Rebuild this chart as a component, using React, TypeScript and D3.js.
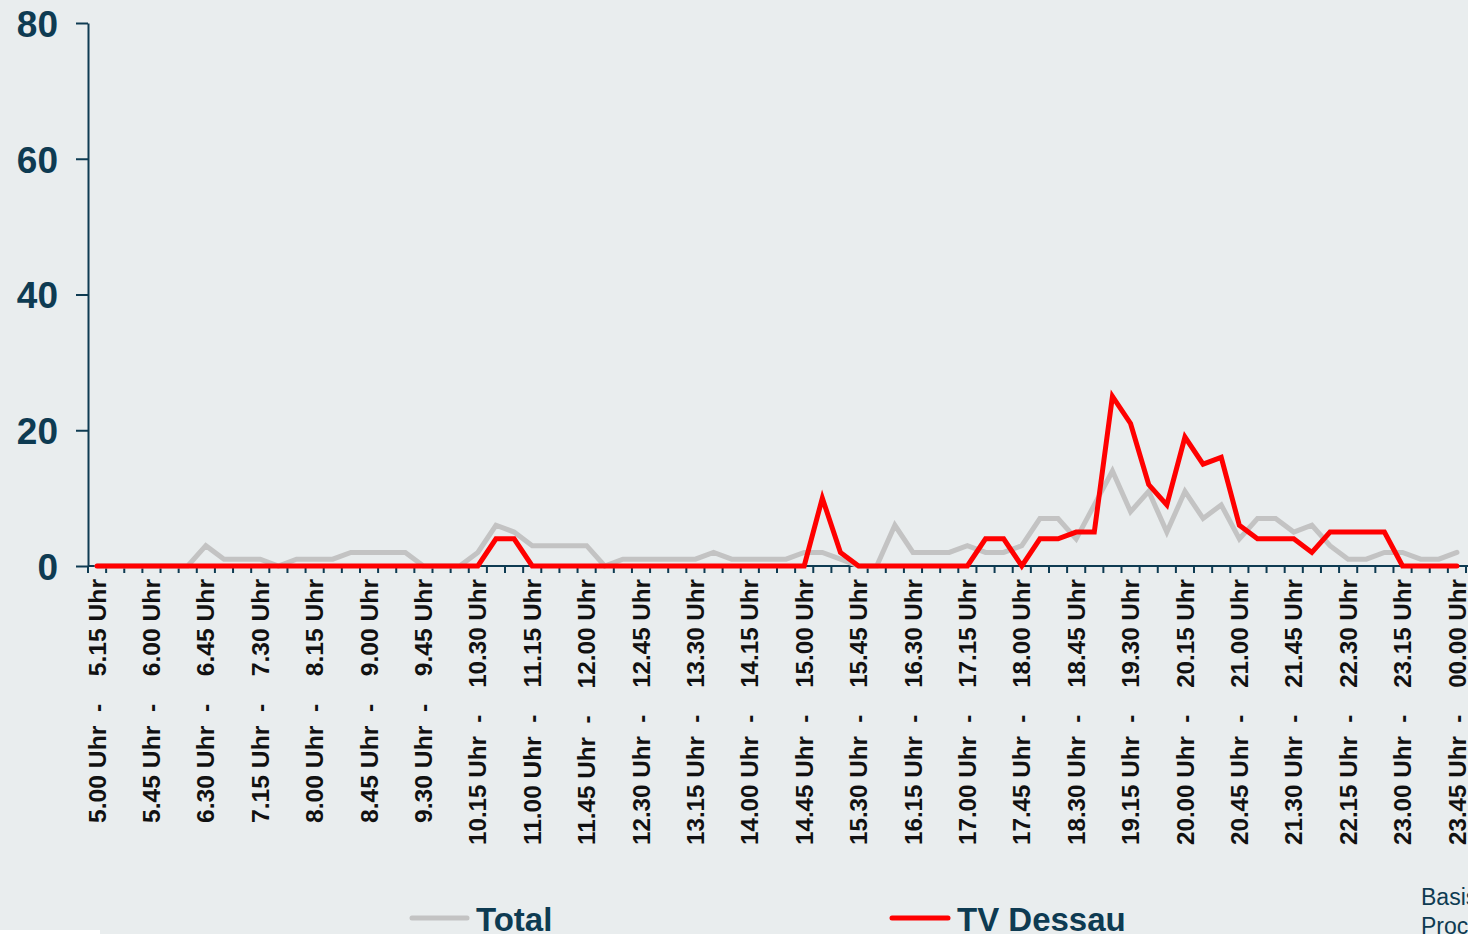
import { useRef, useEffect } from 'react';
import * as d3 from 'd3';

// 15-minute slots, 5.00 Uhr to 00.00 Uhr
var SLOT_STARTS = [
  '5.00', '5.15', '5.30', '5.45', '6.00', '6.15', '6.30', '6.45', '7.00', '7.15', '7.30', '7.45',
  '8.00', '8.15', '8.30', '8.45', '9.00', '9.15', '9.30', '9.45', '10.00', '10.15', '10.30', '10.45',
  '11.00', '11.15', '11.30', '11.45', '12.00', '12.15', '12.30', '12.45', '13.00', '13.15', '13.30', '13.45',
  '14.00', '14.15', '14.30', '14.45', '15.00', '15.15', '15.30', '15.45', '16.00', '16.15', '16.30', '16.45',
  '17.00', '17.15', '17.30', '17.45', '18.00', '18.15', '18.30', '18.45', '19.00', '19.15', '19.30', '19.45',
  '20.00', '20.15', '20.30', '20.45', '21.00', '21.15', '21.30', '21.45', '22.00', '22.15', '22.30', '22.45',
  '23.00', '23.15', '23.30', '23.45'
];
var LAST_END = '00.00';

var TOTAL = [
  0, 0, 0, 0, 0, 0, 3, 1, 1, 1, 0, 1, 1, 1, 2, 2, 2, 2, 0, 0, 0, 2, 6, 5, 3, 3, 3, 3, 0,
  1, 1, 1, 1, 1, 2, 1, 1, 1, 1, 2, 2, 1, 0, 0, 6, 2, 2, 2, 3, 2, 2, 3, 7, 7, 4, 9, 14, 8,
  11, 5, 11, 7, 9, 4, 7, 7, 5, 6, 3, 1, 1, 2, 2, 1, 1, 2
];
var TV_DESSAU = [
  0, 0, 0, 0, 0, 0, 0, 0, 0, 0, 0, 0, 0, 0, 0, 0, 0, 0, 0, 0, 0, 0, 4, 4, 0, 0, 0, 0, 0,
  0, 0, 0, 0, 0, 0, 0, 0, 0, 0, 0, 10, 2, 0, 0, 0, 0, 0, 0, 0, 4, 4, 0, 4, 4, 5, 5, 25, 21,
  12, 9, 19, 15, 16, 6, 4, 4, 4, 2, 5, 5, 5, 5, 0, 0, 0, 0
];
var Y_TICKS = [0, 20, 40, 60, 80];
var SERIES_NAMES = ['Total', 'TV Dessau'];
var SERIES_COLORS = ['#C3C3C3', '#FF0000'];

var BG = '#E9EDEE';
var AXIS = '#0E3B52';
var FONT = '"Liberation Sans", Arial, sans-serif';

export default function App() {
  var svgRef = useRef(null);

  useEffect(function () {
    var svg = d3.select(svgRef.current);
    svg.selectAll('*').remove();

    var W = 1468, H = 934;
    var left = 88, right = 1466, top = 23, bottom = 566;

    svg.append('rect').attr('width', W).attr('height', H).attr('fill', BG);
    svg.append('rect').attr('x', 0).attr('y', 930).attr('width', 100).attr('height', 4).attr('fill', '#ffffff');

    var idx = SLOT_STARTS.map(function (d, i) { return i; });
    var x = d3.scaleBand().domain(idx).range([left, right]).paddingInner(0).paddingOuter(0);
    var y = d3.scaleLinear().domain([0, 80]).range([bottom, top]);
    var cx = function (i) { return x(i) + x.bandwidth() / 2; };

    // Y axis
    var yAxis = svg.append('g')
      .attr('transform', 'translate(' + left + ',0)')
      .call(d3.axisLeft(y).tickValues(Y_TICKS).tickSize(12).tickPadding(18).tickSizeOuter(0));
    yAxis.select('.domain').attr('stroke', AXIS).attr('stroke-width', 2);
    yAxis.selectAll('.tick line').attr('stroke', AXIS).attr('stroke-width', 2);
    yAxis.selectAll('.tick text')
      .attr('font-family', FONT)
      .attr('font-weight', 'bold')
      .attr('font-size', '37px')
      .attr('fill', AXIS)
      .attr('dy', '0.36em');

    // X axis line + ticks between categories
    var xg = svg.append('g');
    xg.append('line')
      .attr('x1', left).attr('x2', W).attr('y1', bottom).attr('y2', bottom)
      .attr('stroke', AXIS).attr('stroke-width', 2);
    for (var k = 0; k <= SLOT_STARTS.length; k++) {
      var tx = left + k * x.step();
      xg.append('line')
        .attr('x1', tx).attr('x2', tx).attr('y1', bottom).attr('y2', bottom + 7)
        .attr('stroke', AXIS).attr('stroke-width', 2);
    }

    // Category labels, every third slot
    SLOT_STARTS.forEach(function (s, i) {
      if (i % 3 !== 0) return;
      var end = i + 1 < SLOT_STARTS.length ? SLOT_STARTS[i + 1] : LAST_END;
      var label = s + ' Uhr  -    ' + end + ' Uhr';
      xg.append('text')
        .attr('transform', 'translate(' + cx(i) + ',579) rotate(-90)')
        .attr('text-anchor', 'end')
        .attr('dy', '0.36em')
        .attr('font-family', FONT)
        .attr('font-weight', 'bold')
        .attr('font-size', '24px')
        .attr('fill', '#111111')
        .attr('textLength', s.length === 4 ? 244 : 266)
        .attr('lengthAdjust', 'spacingAndGlyphs')
        .style('white-space', 'pre')
        .text(label);
    });

    // Lines
    var line = d3.line()
      .x(function (d, i) { return cx(i); })
      .y(function (d) { return y(d); });

    [TOTAL, TV_DESSAU].forEach(function (series, si) {
      svg.append('path')
        .datum(series)
        .attr('d', line)
        .attr('fill', 'none')
        .attr('stroke', SERIES_COLORS[si])
        .attr('stroke-width', 5)
        .attr('stroke-linejoin', 'miter')
        .attr('stroke-linecap', 'round');
    });

    // Legend
    var legendPos = [{ x1: 412, x2: 467, tx: 476 }, { x1: 892, x2: 948, tx: 957 }];
    SERIES_NAMES.forEach(function (name, i) {
      var p = legendPos[i];
      svg.append('line')
        .attr('x1', p.x1).attr('x2', p.x2).attr('y1', 918).attr('y2', 918)
        .attr('stroke', SERIES_COLORS[i]).attr('stroke-width', 5).attr('stroke-linecap', 'round');
      svg.append('text')
        .attr('x', p.tx).attr('y', 931)
        .attr('font-family', FONT)
        .attr('font-weight', 'bold')
        .attr('font-size', '33px')
        .attr('fill', AXIS)
        .text(name);
    });

    // Footnote (cut by the right edge)
    svg.append('text')
      .attr('x', 1421).attr('y', 905)
      .attr('font-family', FONT)
      .attr('font-size', '23px')
      .attr('fill', AXIS)
      .text('Basis');
    svg.append('text')
      .attr('x', 1421).attr('y', 934)
      .attr('font-family', FONT)
      .attr('font-size', '23px')
      .attr('fill', AXIS)
      .text('Proc');
  }, []);

  return (
    <div style={{ position: 'fixed', left: 0, top: 0, width: 1468, height: 934, overflow: 'hidden' }}>
      <svg ref={svgRef} width={1468} height={934} style={{ display: 'block' }} />
    </div>
  );
}
